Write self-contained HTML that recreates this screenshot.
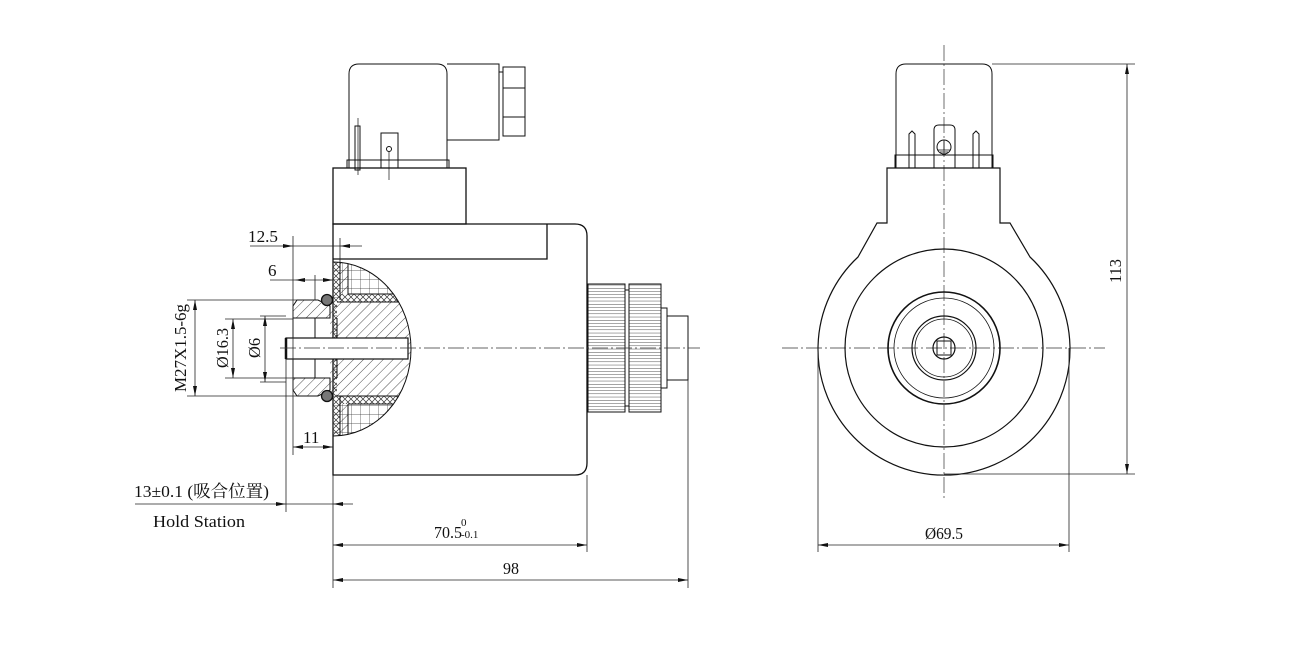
<!DOCTYPE html>
<html><head><meta charset="utf-8"><style>
html,body{margin:0;padding:0;background:#fff;}
svg{display:block;}
text{font-family:"Liberation Serif","Noto Serif CJK SC",serif;fill:#111;}
</style></head><body>
<svg width="1297" height="652" viewBox="0 0 1297 652" xmlns="http://www.w3.org/2000/svg">
<defs>
<pattern id="diag" width="7" height="7" patternUnits="userSpaceOnUse" patternTransform="rotate(45)">
<line x1="0" y1="0" x2="0" y2="7" stroke="#222" stroke-width="0.8"/></pattern>
<pattern id="grid" width="9" height="9" patternUnits="userSpaceOnUse">
<path d="M0 0H9M0 0V9" stroke="#333" stroke-width="0.7" fill="none"/></pattern>
<pattern id="cross" width="6" height="6" patternUnits="userSpaceOnUse">
<path d="M0 0L6 6M6 0L0 6" stroke="#333" stroke-width="0.7"/></pattern>
<pattern id="knurl" width="10" height="3.2" patternUnits="userSpaceOnUse">
<line x1="0" y1="0" x2="10" y2="0" stroke="#222" stroke-width="0.8"/></pattern>
<clipPath id="cut"><path d="M333 262 A78 87 0 0 1 333 436 Z"/></clipPath>
<marker id="ar" viewBox="0 0 10 4" refX="10" refY="2" markerWidth="10" markerHeight="4" orient="auto-start-reverse" markerUnits="userSpaceOnUse"><path d="M0 0L10 2L0 4Z" fill="#111"/></marker>
</defs>
<g fill="none" stroke="#111" stroke-width="1.3">
<path d="M349 168V74Q349 64 359 64H437Q447 64 447 74V168" stroke-width="1"/>
<path d="M447 64H499V140H447" stroke-width="1"/>
<rect x="503" y="67" width="22" height="69" stroke-width="1"/>
<line x1="499" y1="72" x2="503" y2="72" stroke-width="1"/>
<line x1="503" y1="88" x2="525" y2="88" stroke-width="1"/>
<line x1="503" y1="117" x2="525" y2="117" stroke-width="1"/>
<rect x="347" y="160" width="102" height="8" stroke-width="1"/>
<rect x="355" y="126" width="5" height="44" stroke-width="1"/>
<line x1="358" y1="118" x2="358" y2="175" stroke-width="0.7"/>
<rect x="381" y="133" width="17" height="35" stroke-width="1"/>
<circle cx="389" cy="149" r="2.5" stroke-width="1"/>
<line x1="389" y1="152" x2="389" y2="180" stroke-width="0.7"/>
<rect x="333" y="168" width="133" height="56"/>
<path d="M333 224H575Q587 224 587 236V463Q587 475 575 475H333Z"/>
<path d="M333 259H547V224"/>
<g clip-path="url(#cut)">
<g stroke="none">
<rect x="333" y="260" width="90" height="180" fill="url(#grid)"/>
<rect x="340" y="260" width="8" height="180" fill="url(#diag)"/>
<rect x="333" y="260" width="7" height="180" fill="url(#cross)"/>
<rect x="340" y="294" width="80" height="8" fill="#fff"/>
<rect x="340" y="294" width="80" height="8" fill="url(#cross)"/>
<rect x="340" y="396" width="80" height="8" fill="#fff"/>
<rect x="340" y="396" width="80" height="8" fill="url(#cross)"/>
<rect x="337" y="302" width="90" height="94" fill="#fff"/>
<rect x="337" y="302" width="90" height="94" fill="url(#diag)"/>
</g>
<path d="M340 262V300M348 262V294H420M337 302H420M337 396H420M340 396V436M348 404V436M348 404H420" stroke-width="1"/>
</g>
<path d="M333 262 A78 87 0 0 1 333 436" stroke-width="1"/>
<path d="M297 300H318L330 306V318H293V306Z" fill="url(#diag)" stroke-width="1"/>
<path d="M293 378H330V390L318 396H297L293 390Z" fill="url(#diag)" stroke-width="1"/>
<rect x="330" y="302" width="8" height="94" fill="url(#diag)" stroke="none"/>
<path d="M293 318V378M315 318V378M337 318V378" stroke-width="1"/>
<circle cx="327" cy="300" r="5.5" fill="#777"/>
<circle cx="327" cy="396" r="5.5" fill="#777"/>
<rect x="286" y="338" width="122" height="21" fill="#fff" stroke-width="1.2"/>
<line x1="286" y1="338" x2="286" y2="359" stroke-width="2.5"/>
<rect x="588" y="284" width="37" height="128" fill="url(#knurl)" stroke-width="1"/>
<rect x="629" y="284" width="32" height="128" fill="url(#knurl)" stroke-width="1"/>
<path d="M625 290L629 290M625 406L629 406" stroke-width="1"/>
<path d="M661 308H667V388H661" stroke-width="1"/>
<rect x="667" y="316" width="21" height="64" stroke-width="1"/>
</g>
<g stroke="#333" stroke-width="0.7" stroke-dasharray="16 3 2 3" fill="none">
<line x1="280" y1="348" x2="700" y2="348"/>
<line x1="782" y1="348" x2="1105" y2="348"/>
<line x1="944" y1="45" x2="944" y2="500"/>
</g>
<g fill="none" stroke="#111" stroke-width="1.2">
<path d="M896 168V74Q896 64 906 64H982Q992 64 992 74V168" stroke-width="1"/>
<rect x="895" y="155" width="98" height="13" stroke-width="1"/>
<path d="M909 168V134L912 131L915 134V168M973 168V134L976 131L979 134V168" stroke-width="1"/>
<path d="M934 168V130Q934 125 939 125H950Q955 125 955 130V168" stroke-width="1"/>
<circle cx="944" cy="147" r="7" stroke-width="1"/>
<path d="M938 150H950M940 152H948M942 154H946M944 140V150" stroke-width="0.8"/>
<path d="M887 168H1000V223H1010L1030 257 A126 126 0 1 1 858 257 L877 223H887Z"/>
<circle cx="944" cy="348" r="99"/>
<circle cx="944" cy="348" r="56" stroke-width="1.6"/>
<circle cx="944" cy="348" r="50" stroke-width="0.8"/>
<circle cx="944" cy="348" r="32"/>
<circle cx="944" cy="348" r="29" stroke-width="0.8"/>
<circle cx="944" cy="348" r="11"/>
<rect x="937" y="341" width="14" height="14" stroke-width="1"/>
</g>
<g stroke="#222" stroke-width="0.8" fill="none">
<line x1="293" y1="236" x2="293" y2="455"/>
<line x1="340" y1="238" x2="340" y2="262"/>
<line x1="250" y1="246" x2="362" y2="246"/>
<line x1="270" y1="280" x2="333" y2="280"/>
<line x1="315" y1="275" x2="315" y2="300"/>
<line x1="187" y1="300" x2="297" y2="300"/>
<line x1="187" y1="396" x2="297" y2="396"/>
<line x1="195" y1="300" x2="195" y2="396" marker-start="url(#ar)" marker-end="url(#ar)"/>
<line x1="225" y1="319" x2="293" y2="319"/>
<line x1="225" y1="378" x2="293" y2="378"/>
<line x1="233" y1="319" x2="233" y2="378" marker-start="url(#ar)" marker-end="url(#ar)"/>
<line x1="260" y1="316" x2="286" y2="316"/>
<line x1="260" y1="382" x2="286" y2="382"/>
<line x1="265" y1="316" x2="265" y2="382" marker-start="url(#ar)" marker-end="url(#ar)"/>
<line x1="293" y1="447" x2="333" y2="447" marker-start="url(#ar)" marker-end="url(#ar)"/>
<line x1="286" y1="359" x2="286" y2="512"/>
<line x1="135" y1="504" x2="353" y2="504"/>
<line x1="333" y1="475" x2="333" y2="588"/>
<line x1="587" y1="475" x2="587" y2="552"/>
<line x1="688" y1="380" x2="688" y2="588"/>
<line x1="333" y1="545" x2="587" y2="545" marker-start="url(#ar)" marker-end="url(#ar)"/>
<line x1="333" y1="580" x2="688" y2="580" marker-start="url(#ar)" marker-end="url(#ar)"/>
<line x1="992" y1="64" x2="1135" y2="64"/>
<line x1="944" y1="474" x2="1135" y2="474"/>
<line x1="1127" y1="64" x2="1127" y2="474" marker-start="url(#ar)" marker-end="url(#ar)"/>
<line x1="818" y1="348" x2="818" y2="552"/>
<line x1="1069" y1="348" x2="1069" y2="552"/>
<line x1="818" y1="545" x2="1069" y2="545" marker-start="url(#ar)" marker-end="url(#ar)"/>
</g>
<g fill="#111">
<path d="M293 246L283 244V248Z"/><path d="M340 246L350 244V248Z"/>
<path d="M295 280L305 278V282Z"/><path d="M333 280L323 278V282Z"/>
<path d="M286 504L276 502V506Z"/><path d="M333 504L343 502V506Z"/>
</g>
<g font-size="17">
<text x="248" y="242" textLength="30" lengthAdjust="spacingAndGlyphs">12.5</text>
<text x="268" y="276">6</text>
<text x="303" y="443">11</text>
<text transform="translate(186,392) rotate(-90)" textLength="88" lengthAdjust="spacingAndGlyphs">M27X1.5-6g</text>
<text transform="translate(228,368) rotate(-90)" textLength="40" lengthAdjust="spacingAndGlyphs">Ø16.3</text>
<text transform="translate(260,358) rotate(-90)" textLength="20" lengthAdjust="spacingAndGlyphs">Ø6</text>
<text x="134" y="497" textLength="135" lengthAdjust="spacingAndGlyphs">13±0.1 (吸合位置)</text>
<text x="153" y="527" textLength="92" lengthAdjust="spacingAndGlyphs">Hold Station</text>
<text x="434" y="538" textLength="28" lengthAdjust="spacingAndGlyphs">70.5</text>
<text x="461" y="526" font-size="11">0</text>
<text x="461" y="538" font-size="11">-0.1</text>
<text x="503" y="574" textLength="16" lengthAdjust="spacingAndGlyphs">98</text>
<text x="925" y="539" textLength="38" lengthAdjust="spacingAndGlyphs">Ø69.5</text>
<text transform="translate(1121,283) rotate(-90)" textLength="24" lengthAdjust="spacingAndGlyphs">113</text>
</g>
</svg>
</body></html>
